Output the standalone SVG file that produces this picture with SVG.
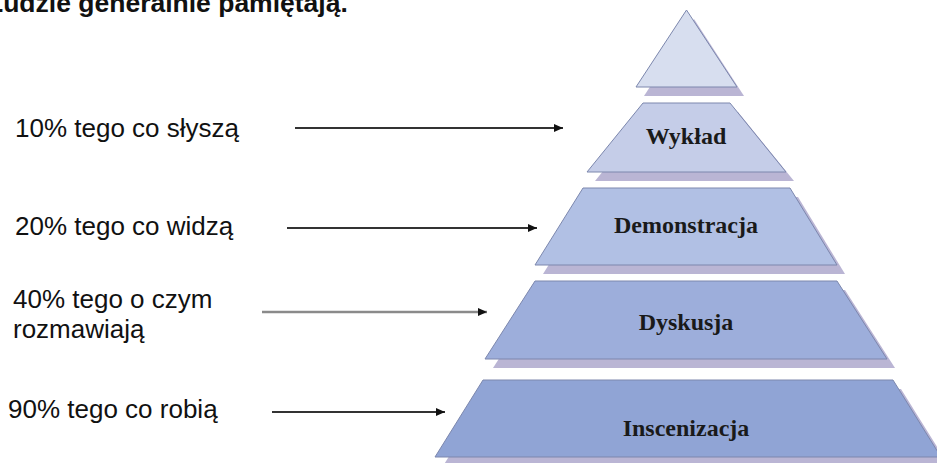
<svg xmlns="http://www.w3.org/2000/svg" width="937" height="463" viewBox="0 0 937 463">
<defs>
<style>
.lbl{font-family:"Liberation Sans",Arial,sans-serif;font-size:26px;fill:#111}
.ttl{font-family:"Liberation Sans",Arial,sans-serif;font-size:26.5px;font-weight:bold;fill:#111}
.lv{font-family:"Liberation Serif","Times New Roman",serif;font-size:24px;font-weight:bold;fill:#1a1a1a;text-anchor:middle}
.shp{stroke:#7c87ad;stroke-width:1}
.sh{fill:#bab5d4}
.ar{stroke:#333;stroke-width:2;fill:none;marker-end:url(#ah)}
</style>
<marker id="ah" markerUnits="userSpaceOnUse" markerWidth="10" markerHeight="8" refX="9" refY="4" orient="auto">
<path d="M0,0 L9,4 L0,8 Z" fill="#111"/>
</marker>
</defs>
<rect width="937" height="463" fill="#fff"/>
<text class="ttl" x="-13" y="12">Ludzie generalnie pamiętają.</text>

<g id="top">
<polygon class="sh" points="694,19 744,96 644,96"/>
<polygon class="shp" fill="#d7deef" points="686.5,10 737,87 636,87"/>
</g>
<g id="wyklad">
<polygon class="sh" points="651,112 738,112 794,181 595,181"/>
<polygon class="shp" fill="#c5cde8" points="643,103 730,103 786,172 587,172"/>
<text class="lv" x="686" y="144">Wykład</text>
</g>
<g id="demonstracja">
<polygon class="sh" points="591,197 798,197 845,274 543,274"/>
<polygon class="shp" fill="#b1c0e4" points="583,188 790,188 837,265 535,265"/>
<text class="lv" x="686" y="233">Demonstracja</text>
</g>
<g id="dyskusja">
<polygon class="sh" points="543,290 845,290 895,368 493,368"/>
<polygon class="shp" fill="#9daedb" points="535,281 837,281 887,359 485,359"/>
<text class="lv" x="686" y="330">Dyskusja</text>
</g>
<g id="inscenizacja">
<polygon class="sh" points="491,389 901,389 949,466 443,466"/>
<polygon class="shp" fill="#90a4d5" points="483,380 893,380 941,457 435,457"/>
<text class="lv" x="686" y="436">Inscenizacja</text>
</g>

<g id="labels">
<text class="lbl" x="15" y="137">10% tego co słyszą</text>
<text class="lbl" x="15" y="235">20% tego co widzą</text>
<text class="lbl" x="13" y="308">40% tego o czym</text>
<text class="lbl" x="13" y="338">rozmawiają</text>
<text class="lbl" x="8" y="418">90% tego co robią</text>
</g>

<g id="connectors">
<line class="ar" x1="295" y1="128" x2="563" y2="128"/>
<line class="ar" x1="287" y1="228" x2="537" y2="228"/>
<line class="ar" x1="262" y1="312" x2="487" y2="312" style="stroke:#8a8a8a;stroke-width:2.5"/>
<line class="ar" x1="272" y1="412" x2="445" y2="412"/>
</g>
</svg>
